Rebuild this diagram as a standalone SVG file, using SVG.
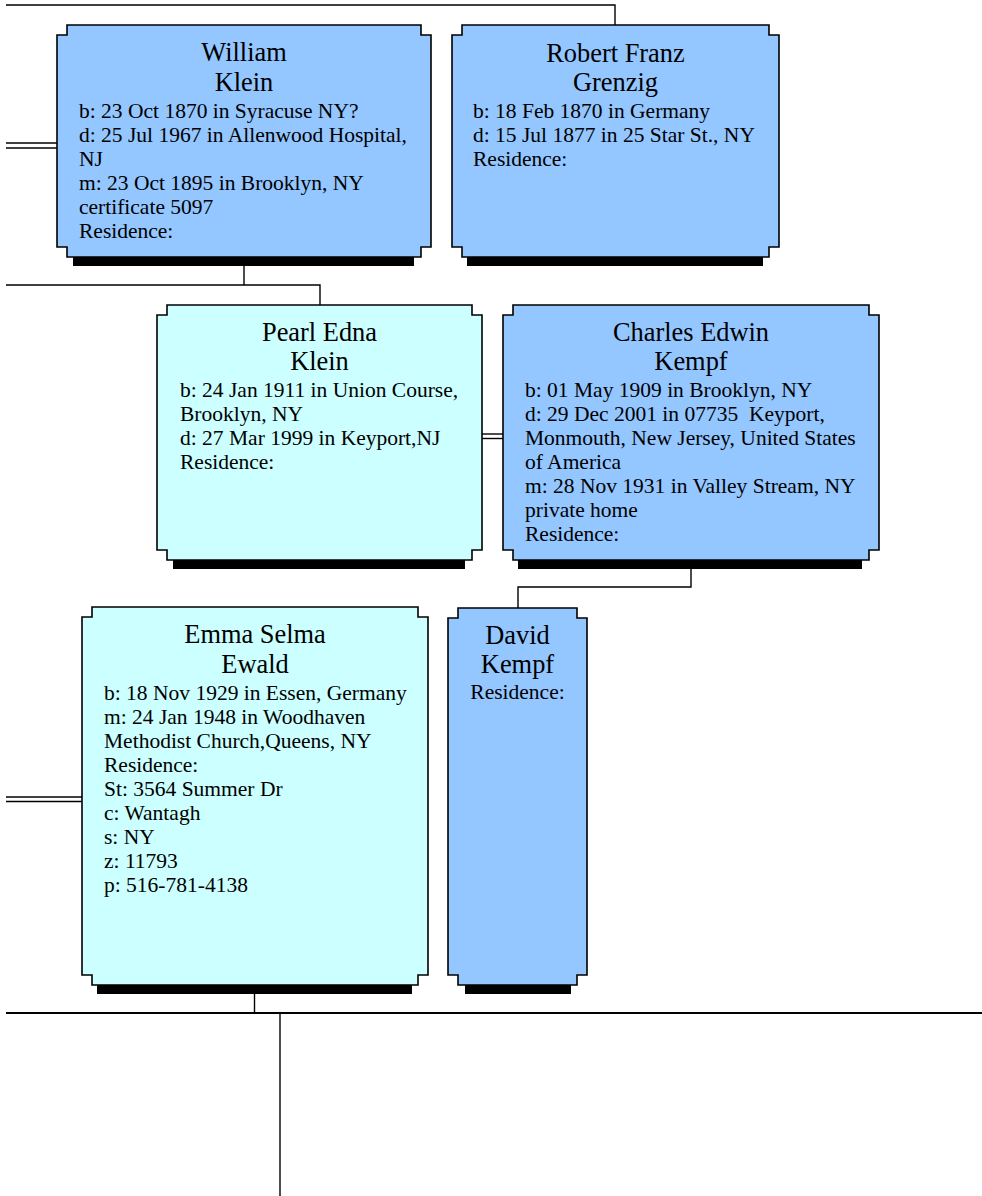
<svg xmlns="http://www.w3.org/2000/svg" width="982" height="1196" viewBox="0 0 982 1196">
<style>
.box{stroke:#000;stroke-width:1.6;stroke-linejoin:miter}
.blue{fill:#94C6FF}
.cyan{fill:#CCFFFF}
.shadow{fill:#000}
.nm{font-family:"Liberation Serif","Times New Roman",serif;font-size:26.4px;fill:#000;text-anchor:middle}
.dt{font-family:"Liberation Serif","Times New Roman",serif;font-size:21.5px;fill:#000;white-space:pre}
.ctr{text-anchor:middle}
.ln{stroke:#000;stroke-width:1.4;fill:none}
.thick{stroke:#000;stroke-width:2.2;fill:none}
</style>
<rect width="982" height="1196" fill="#fff"/>
<g id="connectors">
<polyline class="ln" points="6,5 615,5 615,25"/>
<line class="ln" x1="6" y1="143" x2="57" y2="143"/>
<line class="ln" x1="6" y1="148" x2="57" y2="148"/>
<polyline class="ln" points="244,266 244,285"/>
<polyline class="ln" points="6,285 320,285 320,305"/>
<line class="ln" x1="482" y1="434" x2="503" y2="434"/>
<line class="ln" x1="482" y1="438.5" x2="503" y2="438.5"/>
<polyline class="ln" points="691,569 691,587 518,587 518,608"/>
<line class="ln" x1="6" y1="797" x2="82" y2="797"/>
<line class="ln" x1="6" y1="801.5" x2="82" y2="801.5"/>
<line class="ln" x1="254.5" y1="994" x2="254.5" y2="1013"/>
<line class="thick" x1="6" y1="1013" x2="982" y2="1013"/>
<line class="ln" x1="280" y1="1014" x2="280" y2="1196"/>
</g>
<g id="william">
<rect class="shadow" x="73" y="256" width="341" height="10"/>
<path class="box blue" d="M67,25 H421 V35 H431 V247 H421 V257 H67 V247 H57 V35 H67 Z"/>
<text class="nm" x="244" y="61">William</text>
<text class="nm" x="244" y="91">Klein</text>
<text class="dt" x="79" y="118">b: 23 Oct 1870 in Syracuse NY?</text>
<text class="dt" x="79" y="142">d: 25 Jul 1967 in Allenwood Hospital,</text>
<text class="dt" x="79" y="166">NJ</text>
<text class="dt" x="79" y="190">m: 23 Oct 1895 in Brooklyn, NY</text>
<text class="dt" x="79" y="214">certificate 5097</text>
<text class="dt" x="79" y="238">Residence:</text>
</g>
<g id="robert">
<rect class="shadow" x="467" y="256" width="296" height="10"/>
<path class="box blue" d="M462,25 H769 V35 H779 V247 H769 V257 H462 V247 H452 V35 H462 Z"/>
<text class="nm" x="615.5" y="62">Robert Franz</text>
<text class="nm" x="615.5" y="91">Grenzig</text>
<text class="dt" x="473" y="118">b: 18 Feb 1870 in Germany</text>
<text class="dt" x="473" y="142">d: 15 Jul 1877 in 25 Star St., NY</text>
<text class="dt" x="473" y="166">Residence:</text>
</g>
<g id="pearl">
<rect class="shadow" x="173" y="559" width="292" height="10"/>
<path class="box cyan" d="M167,305 H472 V315 H482 V550 H472 V560 H167 V550 H157 V315 H167 Z"/>
<text class="nm" x="319.5" y="341">Pearl Edna</text>
<text class="nm" x="319.5" y="370">Klein</text>
<text class="dt" x="180" y="397">b: 24 Jan 1911 in Union Course,</text>
<text class="dt" x="180" y="421">Brooklyn, NY</text>
<text class="dt" x="180" y="445">d: 27 Mar 1999 in Keyport,NJ</text>
<text class="dt" x="180" y="469">Residence:</text>
</g>
<g id="charles">
<rect class="shadow" x="518" y="559" width="344" height="10"/>
<path class="box blue" d="M513,305 H869 V315 H879 V550 H869 V560 H513 V550 H503 V315 H513 Z"/>
<text class="nm" x="691" y="341">Charles Edwin</text>
<text class="nm" x="691" y="370">Kempf</text>
<text class="dt" x="525" y="397">b: 01 May 1909 in Brooklyn, NY</text>
<text class="dt" x="525" y="421" xml:space="preserve">d: 29 Dec 2001 in 07735  Keyport,</text>
<text class="dt" x="525" y="445">Monmouth, New Jersey, United States</text>
<text class="dt" x="525" y="469">of America</text>
<text class="dt" x="525" y="493">m: 28 Nov 1931 in Valley Stream, NY</text>
<text class="dt" x="525" y="517">private home</text>
<text class="dt" x="525" y="541">Residence:</text>
</g>
<g id="emma">
<rect class="shadow" x="97" y="984" width="315" height="10"/>
<path class="box cyan" d="M92,607 H418 V617 H428 V975 H418 V985 H92 V975 H82 V617 H92 Z"/>
<text class="nm" x="255" y="643">Emma Selma</text>
<text class="nm" x="255" y="672.5">Ewald</text>
<text class="dt" x="104" y="700">b: 18 Nov 1929 in Essen, Germany</text>
<text class="dt" x="104" y="724">m: 24 Jan 1948 in Woodhaven</text>
<text class="dt" x="104" y="748">Methodist Church,Queens, NY</text>
<text class="dt" x="104" y="772">Residence:</text>
<text class="dt" x="104" y="796">St: 3564 Summer Dr</text>
<text class="dt" x="104" y="820">c: Wantagh</text>
<text class="dt" x="104" y="844">s: NY</text>
<text class="dt" x="104" y="868">z: 11793</text>
<text class="dt" x="104" y="892">p: 516-781-4138</text>
</g>
<g id="david">
<rect class="shadow" x="465" y="984" width="106" height="10"/>
<path class="box blue" d="M458,608 H577 V618 H587 V975 H577 V985 H458 V975 H448 V618 H458 Z"/>
<text class="nm" x="517.5" y="644">David</text>
<text class="nm" x="517.5" y="673">Kempf</text>
<text class="dt ctr" x="517.5" y="699">Residence:</text>
</g>
</svg>
